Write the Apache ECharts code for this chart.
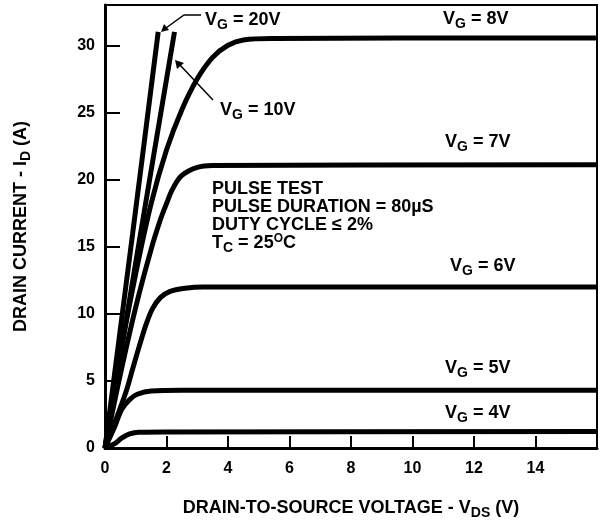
<!DOCTYPE html>
<html>
<head>
<meta charset="utf-8">
<script src="https://cdn.jsdelivr.net/npm/echarts@6/dist/echarts.min.js"></script>
<style>
  html, body { margin: 0; padding: 0; background: #fff; }
  #chart { width: 600px; height: 525px; }
</style>
</head>
<body>
<div id="chart"></div>
<script>
// drain characteristics, [VDS, ID]
var vg20 = [[0, 0], [0.9, 16], [1.73, 31]];
var vg10 = [[0, 0], [1.1, 15.2], [2.26, 31]];
var vg8 = [[0, 0], [0.5, 7], [1.0, 13], [1.5, 18.2], [2.0, 22.2], [2.5, 25.2], [3.0, 27.5],
    [3.5, 29.1], [4.0, 30.0], [4.5, 30.4], [5.5, 30.5], [16, 30.55]];
var vg7 = [[0, 0], [0.5, 5.5], [1.0, 10.5], [1.5, 14.8], [1.8, 17], [2.0, 18.2], [2.2, 19.3],
    [2.5, 20.3], [3.0, 20.9], [3.5, 21.05], [16, 21.1]];
var vg6 = [[0, 0], [0.4, 2.4], [0.7, 4.3], [0.9, 5.9], [1.13, 7.7], [1.35, 9.3], [1.55, 10.4],
    [1.8, 11.2], [2.1, 11.65], [2.6, 11.9], [3.2, 12.0], [16, 12.0]];
var vg5 = [[0, 0], [0.3, 1.5], [0.55, 2.9], [0.8, 3.6], [1.05, 4.0], [1.5, 4.25], [2.5, 4.3], [16, 4.3]];
var vg4 = [[0, 0], [0.3, 0.3], [0.55, 0.75], [0.8, 1.05], [1.1, 1.18], [2, 1.2], [16, 1.22]];

var xTicks = [0, 2, 4, 6, 8, 10, 12, 14];
var yTicks = [0, 5, 10, 15, 20, 25, 30];

var FONT = '"Liberation Sans", Arial, sans-serif';
function tx(size, pad) {
    var s = { fontFamily: FONT, fontWeight: 'bold', fontSize: size, color: '#000' };
    if (pad) s.padding = pad;
    return s;
}
var rich = {
    t: tx(18),
    sub: tx(14, [10, 0, 0, 0]),
    sup: tx(12, [0, 0, 9, 0])
};

function vgText(v) {
    return '{t|V}{sub|G}{t| = ' + v + '}';
}

function curve(data) {
    return {
        type: 'line',
        data: data,
        smooth: 0.35,
        showSymbol: false,
        lineStyle: { color: '#000', width: 5 },
        silent: true
    };
}

var chart = echarts.init(document.getElementById('chart'));

var option = {
    animation: false,
    grid: { left: 105, right: 2, top: 5, bottom: 74, show: true, borderColor: '#000', borderWidth: 2 },
    xAxis: {
        type: 'value', min: 0, max: 16, interval: 2,
        name: '{t|DRAIN-TO-SOURCE VOLTAGE - V}{sub|DS}{t| (V)}',
        nameLocation: 'middle', nameGap: 48,
        nameTextStyle: { rich: rich },
        axisLine: { lineStyle: { color: '#000', width: 3 } },
        axisTick: { inside: true, length: 12, lineStyle: { color: '#000', width: 2 } },
        axisLabel: {
            margin: 13, color: '#000', fontFamily: FONT, fontWeight: 'bold', fontSize: 16,
            formatter: function (v) { return xTicks.indexOf(v) >= 0 ? String(v) : ''; }
        },
        splitLine: { show: false }
    },
    yAxis: {
        type: 'value', min: 0, max: 33, interval: 5,
        name: '{t|DRAIN CURRENT - I}{sub|D}{t| (A)}',
        nameLocation: 'middle', nameGap: 72, nameRotate: 90,
        nameTextStyle: { rich: rich },
        axisLine: { lineStyle: { color: '#000', width: 3 } },
        axisTick: { inside: true, length: 15, lineStyle: { color: '#000', width: 2 } },
        axisLabel: {
            margin: 10, color: '#000', fontFamily: FONT, fontWeight: 'bold', fontSize: 16,
            formatter: function (v) { return yTicks.indexOf(v) >= 0 ? String(v) : ''; }
        },
        splitLine: { show: false }
    },
    series: [curve(vg20), curve(vg10), curve(vg8), curve(vg7), curve(vg6), curve(vg5), curve(vg4)],
    graphic: [
        { type: 'text', left: 205, top: 11, style: { text: vgText('20V'), rich: rich } },
        { type: 'text', left: 220, top: 101, style: { text: vgText('10V'), rich: rich } },
        { type: 'text', left: 443, top: 10, style: { text: vgText('8V'), rich: rich } },
        { type: 'text', left: 445, top: 133, style: { text: vgText('7V'), rich: rich } },
        { type: 'text', left: 450, top: 257, style: { text: vgText('6V'), rich: rich } },
        { type: 'text', left: 445, top: 359, style: { text: vgText('5V'), rich: rich } },
        { type: 'text', left: 445, top: 404, style: { text: vgText('4V'), rich: rich } },
        {
            type: 'text', left: 212, top: 180,
            style: {
                text: '{t|PULSE TEST}\n{t|PULSE DURATION = 80µS}\n{t|DUTY CYCLE ≤ 2%}\n{t|T}{sub|C}{t| = 25}{sup|O}{t|C}',
                rich: rich, lineHeight: 18
            }
        },
        // arrow to the VG = 20V line
        { type: 'polyline', shape: { points: [[201, 15], [184, 15], [166, 28]] }, style: { stroke: '#000', lineWidth: 1.5, fill: null } },
        { type: 'polygon', shape: { points: [[161, 32], [164, 24], [169, 30]] }, style: { fill: '#000' } },
        // arrow to the VG = 10V line
        { type: 'line', shape: { x1: 213, y1: 100, x2: 179, y2: 64 }, style: { stroke: '#000', lineWidth: 1.5 } },
        { type: 'polygon', shape: { points: [[175, 60], [177, 69], [184, 63]] }, style: { fill: '#000' } }
    ]
};

chart.setOption(option);
</script>
</body>
</html>
